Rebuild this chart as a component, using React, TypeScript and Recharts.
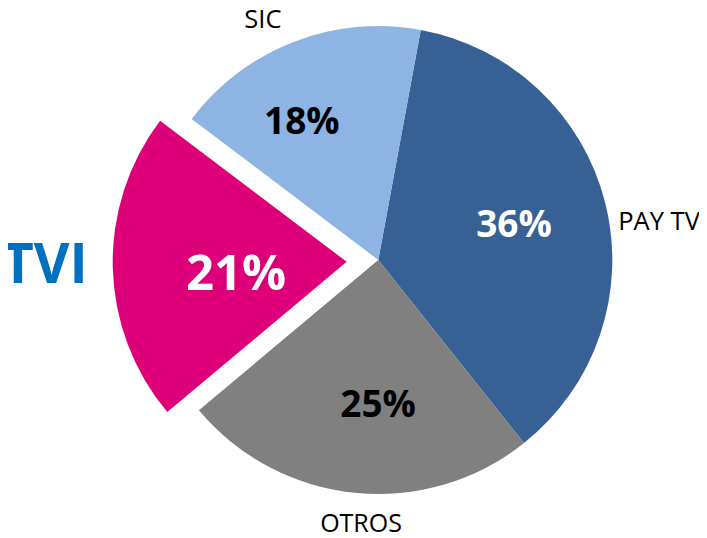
import React from "react";
import { PieChart, Pie, Cell } from "recharts";

const categories = ["PAY TV", "OTROS", "TVI", "SIC"];
const shares = [36.4, 24.6, 21.4, 17.6];
const percentLabels = ["36%", "25%", "21%", "18%"];
const colors = ["#376194", "#808080", "#DE0078", "#8EB4E3"];
const innerTextColors = ["#FFFFFF", "#000000", "#FFFFFF", "#000000"];
const explodedName = "TVI";

const data = categories.map((name, i) => ({ name, value: shares[i], pct: percentLabels[i] }));

// label placement style per slice: inner radius factor, inner angle tweak, outer radius factor, outer angle tweak
const labelStyle: Record<string, any> = {
  "PAY TV": { ir: 0.602, ia: 1.6, is: 37, or: 1.212, oa: -5.9, os: 25.5 },
  OTROS: { ir: 0.609, ia: 5.7, is: 37, or: 1.12, oa: 2.0, os: 25 },
  TVI: { ir: 0.474, ia: 3.2, is: 49, or: 1.29, oa: -1.5, os: 55 },
  SIC: { ir: 0.684, ia: 7.3, is: 37, or: 1.144, oa: 4.3, os: 25.5 },
};

const RAD = Math.PI / 180;
const FONT = "'Open Sans', sans-serif";

const makeLabel = (only: (n: string) => boolean) => (props: any) => {
  const { cx, cy, midAngle, outerRadius, payload, index } = props;
  const name = payload?.name ?? categories[index];
  if (!only(name)) return null;
  const s = labelStyle[name];
  const ia = (midAngle + s.ia) * RAD;
  const oa = (midAngle + s.oa) * RAD;
  const ix = cx + outerRadius * s.ir * Math.cos(ia);
  const iy = cy - outerRadius * s.ir * Math.sin(ia);
  const ox = cx + outerRadius * s.or * Math.cos(oa);
  const oy = cy - outerRadius * s.or * Math.sin(oa);
  const i = categories.indexOf(name);
  const isTvi = name === "TVI";
  return (
    <g>
      <text
        x={ix}
        y={iy}
        textAnchor="middle"
        dominantBaseline="central"
        fontFamily={FONT}
        fontWeight={700}
        fontSize={s.is}
        fill={innerTextColors[i]}
      >
        {percentLabels[i]}
      </text>
      <text
        x={ox}
        y={oy}
        textAnchor="middle"
        dominantBaseline="central"
        fontFamily={FONT}
        fontWeight={isTvi ? 700 : 400}
        fontSize={s.os}
        fill={isTvi ? "#0070C0" : "#000000"}
      >
        {name}
      </text>
    </g>
  );
};

export default function App() {
  const cx = 378.3;
  const cy = 260;
  const R = 234;
  const explode = 31.6;
  const start = 79.55;
  const total = shares.reduce((a, b) => a + b, 0);
  let acc = 0;
  let mid = 0;
  categories.forEach((c, i) => {
    const a0 = start - (acc / total) * 360;
    acc += shares[i];
    const a1 = start - (acc / total) * 360;
    if (c === explodedName) mid = (a0 + a1) / 2;
  });
  const ecx = cx + explode * Math.cos(mid * RAD);
  const ecy = cy - explode * Math.sin(mid * RAD) + 1;

  return (
    <div style={{ marginLeft: -8, marginTop: -8, width: 707, height: 538 }}>
      <PieChart width={707} height={538} margin={{ top: 0, right: 0, bottom: 0, left: 0 }}>
        <Pie
          data={data}
          dataKey="value"
          cx={cx}
          cy={cy}
          outerRadius={R}
          startAngle={start}
          endAngle={start - 360}
          stroke="none"
          isAnimationActive={false}
          labelLine={false}
          label={makeLabel((n) => n !== explodedName)}
        >
          {data.map((d, i) => (
            <Cell key={i} fill={d.name === explodedName ? "transparent" : colors[i]} />
          ))}
        </Pie>
        <Pie
          data={data}
          dataKey="value"
          cx={ecx}
          cy={ecy}
          outerRadius={R}
          startAngle={start}
          endAngle={start - 360}
          stroke="none"
          isAnimationActive={false}
          labelLine={false}
          label={makeLabel((n) => n === explodedName)}
        >
          {data.map((d, i) => (
            <Cell key={i} fill={d.name === explodedName ? colors[i] : "transparent"} />
          ))}
        </Pie>
      </PieChart>
    </div>
  );
}
